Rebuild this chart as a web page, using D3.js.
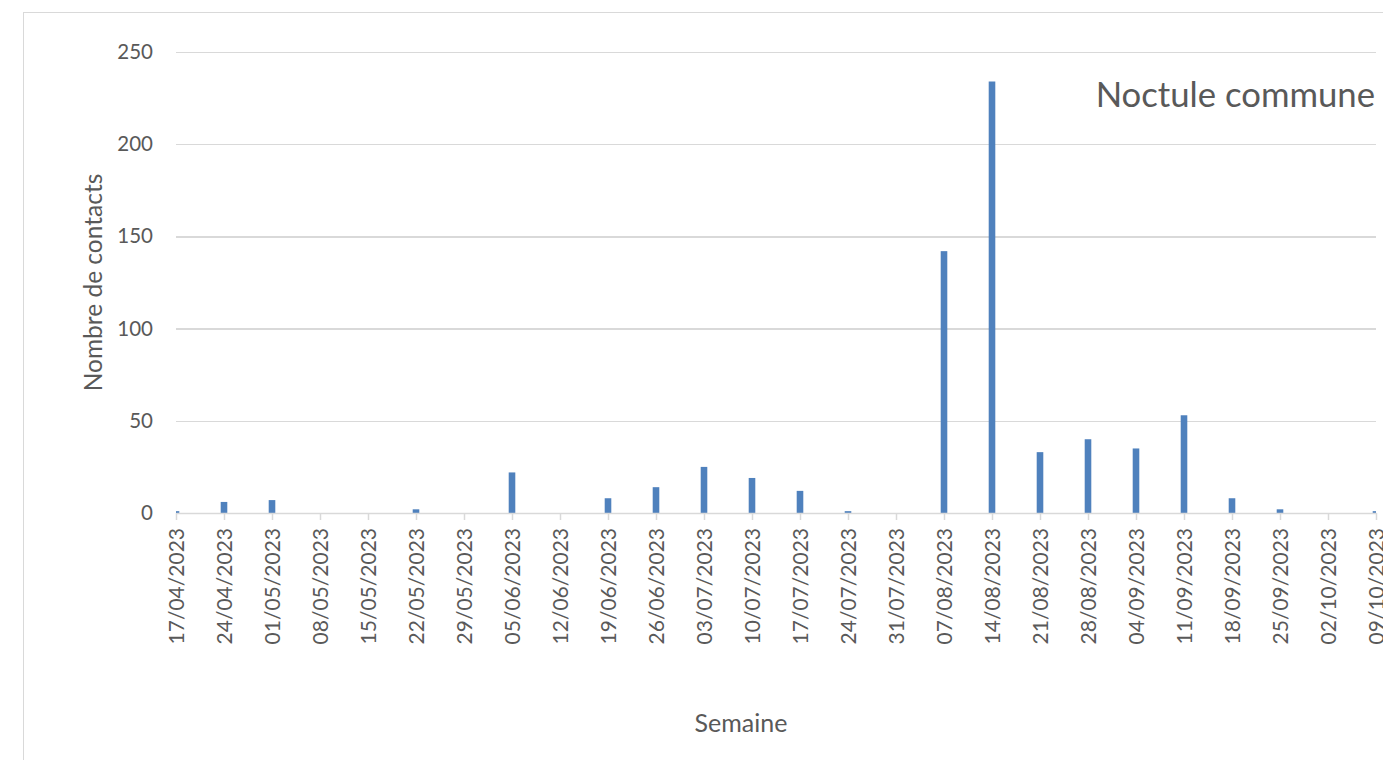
<!DOCTYPE html>
<html>
<head>
<meta charset="utf-8">
<script src="https://cdn.jsdelivr.net/npm/d3@7"></script>
<style>
  html, body { margin: 0; padding: 0; background: #ffffff; }
  svg { display: block; }
  text { font-family: Lato, "Open Sans", sans-serif; fill: #595959; }
</style>
</head>
<body>
<svg id="chart" width="1383" height="760"></svg>
<script>
// Weekly contact counts (week start dates)
const weeks = ["17/04/2023","24/04/2023","01/05/2023","08/05/2023","15/05/2023","22/05/2023",
  "29/05/2023","05/06/2023","12/06/2023","19/06/2023","26/06/2023","03/07/2023","10/07/2023",
  "17/07/2023","24/07/2023","31/07/2023","07/08/2023","14/08/2023","21/08/2023","28/08/2023",
  "04/09/2023","11/09/2023","18/09/2023","25/09/2023","02/10/2023","09/10/2023"];
const contacts = [1, 6, 7, 0, 0, 2, 0, 22, 0, 8, 14, 25, 19, 12, 1, 0, 142, 234, 33, 40, 35, 53, 8, 2, 0, 1];
const yTicks = [0, 50, 100, 150, 200, 250];
const chartTitle = "Noctule commune";
const yTitle = "Nombre de contacts";
const xTitle = "Semaine";

const parse = d3.timeParse("%d/%m/%Y");
const dates = weeks.map(parse);

const svg = d3.select("#chart");
const plot = { left: 176, right: 1376, top: 52, bottom: 513 };

// Chart frame
svg.append("rect")
  .attr("x", 23.5).attr("y", 12.5)
  .attr("width", 1420).attr("height", 800)
  .attr("fill", "none").attr("stroke", "#d9d9d9").attr("stroke-width", 1);

const x = d3.scaleTime()
  .domain([dates[0], dates[dates.length - 1]])
  .range([plot.left, plot.right]);

const y = d3.scaleLinear()
  .domain([0, 250])
  .range([plot.bottom, plot.top]);

// Horizontal gridlines and y labels
const yAxis = d3.axisLeft(y)
  .tickValues(yTicks)
  .tickSize(-(plot.right - plot.left))
  .tickPadding(23);
const gy = svg.append("g")
  .attr("transform", `translate(${plot.left},0)`)
  .call(yAxis);
gy.select(".domain").remove();
gy.selectAll(".tick line")
  .attr("stroke", "#d9d9d9").attr("stroke-width", 1.3)
  .attr("shape-rendering", "crispEdges");
gy.selectAll(".tick text")
  .attr("font-size", 20.5)
  .style("font-family", "Lato, 'Open Sans', sans-serif")
  .attr("fill", "#595959");

// Bars (clipped to the plot area)
svg.append("clipPath").attr("id", "plotClip")
  .append("rect")
  .attr("x", plot.left).attr("y", 0)
  .attr("width", plot.right - plot.left).attr("height", plot.bottom);

const barW = 6.6;
svg.append("g")
  .attr("clip-path", "url(#plotClip)")
  .selectAll("rect")
  .data(contacts)
  .join("rect")
  .attr("x", (d, i) => x(dates[i]) - barW / 2)
  .attr("y", d => y(d))
  .attr("width", barW)
  .attr("height", d => y(0) - y(d))
  .attr("fill", "#4f81bd");

// Date axis
const xAxis = d3.axisBottom(x)
  .tickValues(dates)
  .tickFormat(d3.timeFormat("%d/%m/%Y"))
  .tickSize(7)
  .tickSizeOuter(0);
const gx = svg.append("g")
  .attr("transform", `translate(0,${plot.bottom})`)
  .call(xAxis);
gx.select(".domain").attr("stroke", "#d9d9d9").attr("stroke-width", 1.5);
gx.selectAll(".tick line").attr("stroke", "#d9d9d9").attr("stroke-width", 1.5);
gx.selectAll(".tick text")
  .attr("font-size", 21)
  .style("font-family", "Lato, 'Open Sans', sans-serif")
  .attr("fill", "#595959")
  .attr("text-anchor", "end")
  .attr("transform", "rotate(-90)")
  .attr("x", -15)
  .attr("y", 0)
  .attr("dy", "0.36em");

// Titles
svg.append("text")
  .attr("x", 1375).attr("y", 107)
  .attr("text-anchor", "end")
  .attr("font-size", 34.7)
  .text(chartTitle);

svg.append("text")
  .attr("transform", `translate(102,${(plot.top + plot.bottom) / 2}) rotate(-90)`)
  .attr("text-anchor", "middle")
  .attr("font-size", 24.5)
  .text(yTitle);

svg.append("text")
  .attr("x", 741).attr("y", 732)
  .attr("text-anchor", "middle")
  .attr("font-size", 25)
  .text(xTitle);
</script>
</body>
</html>
